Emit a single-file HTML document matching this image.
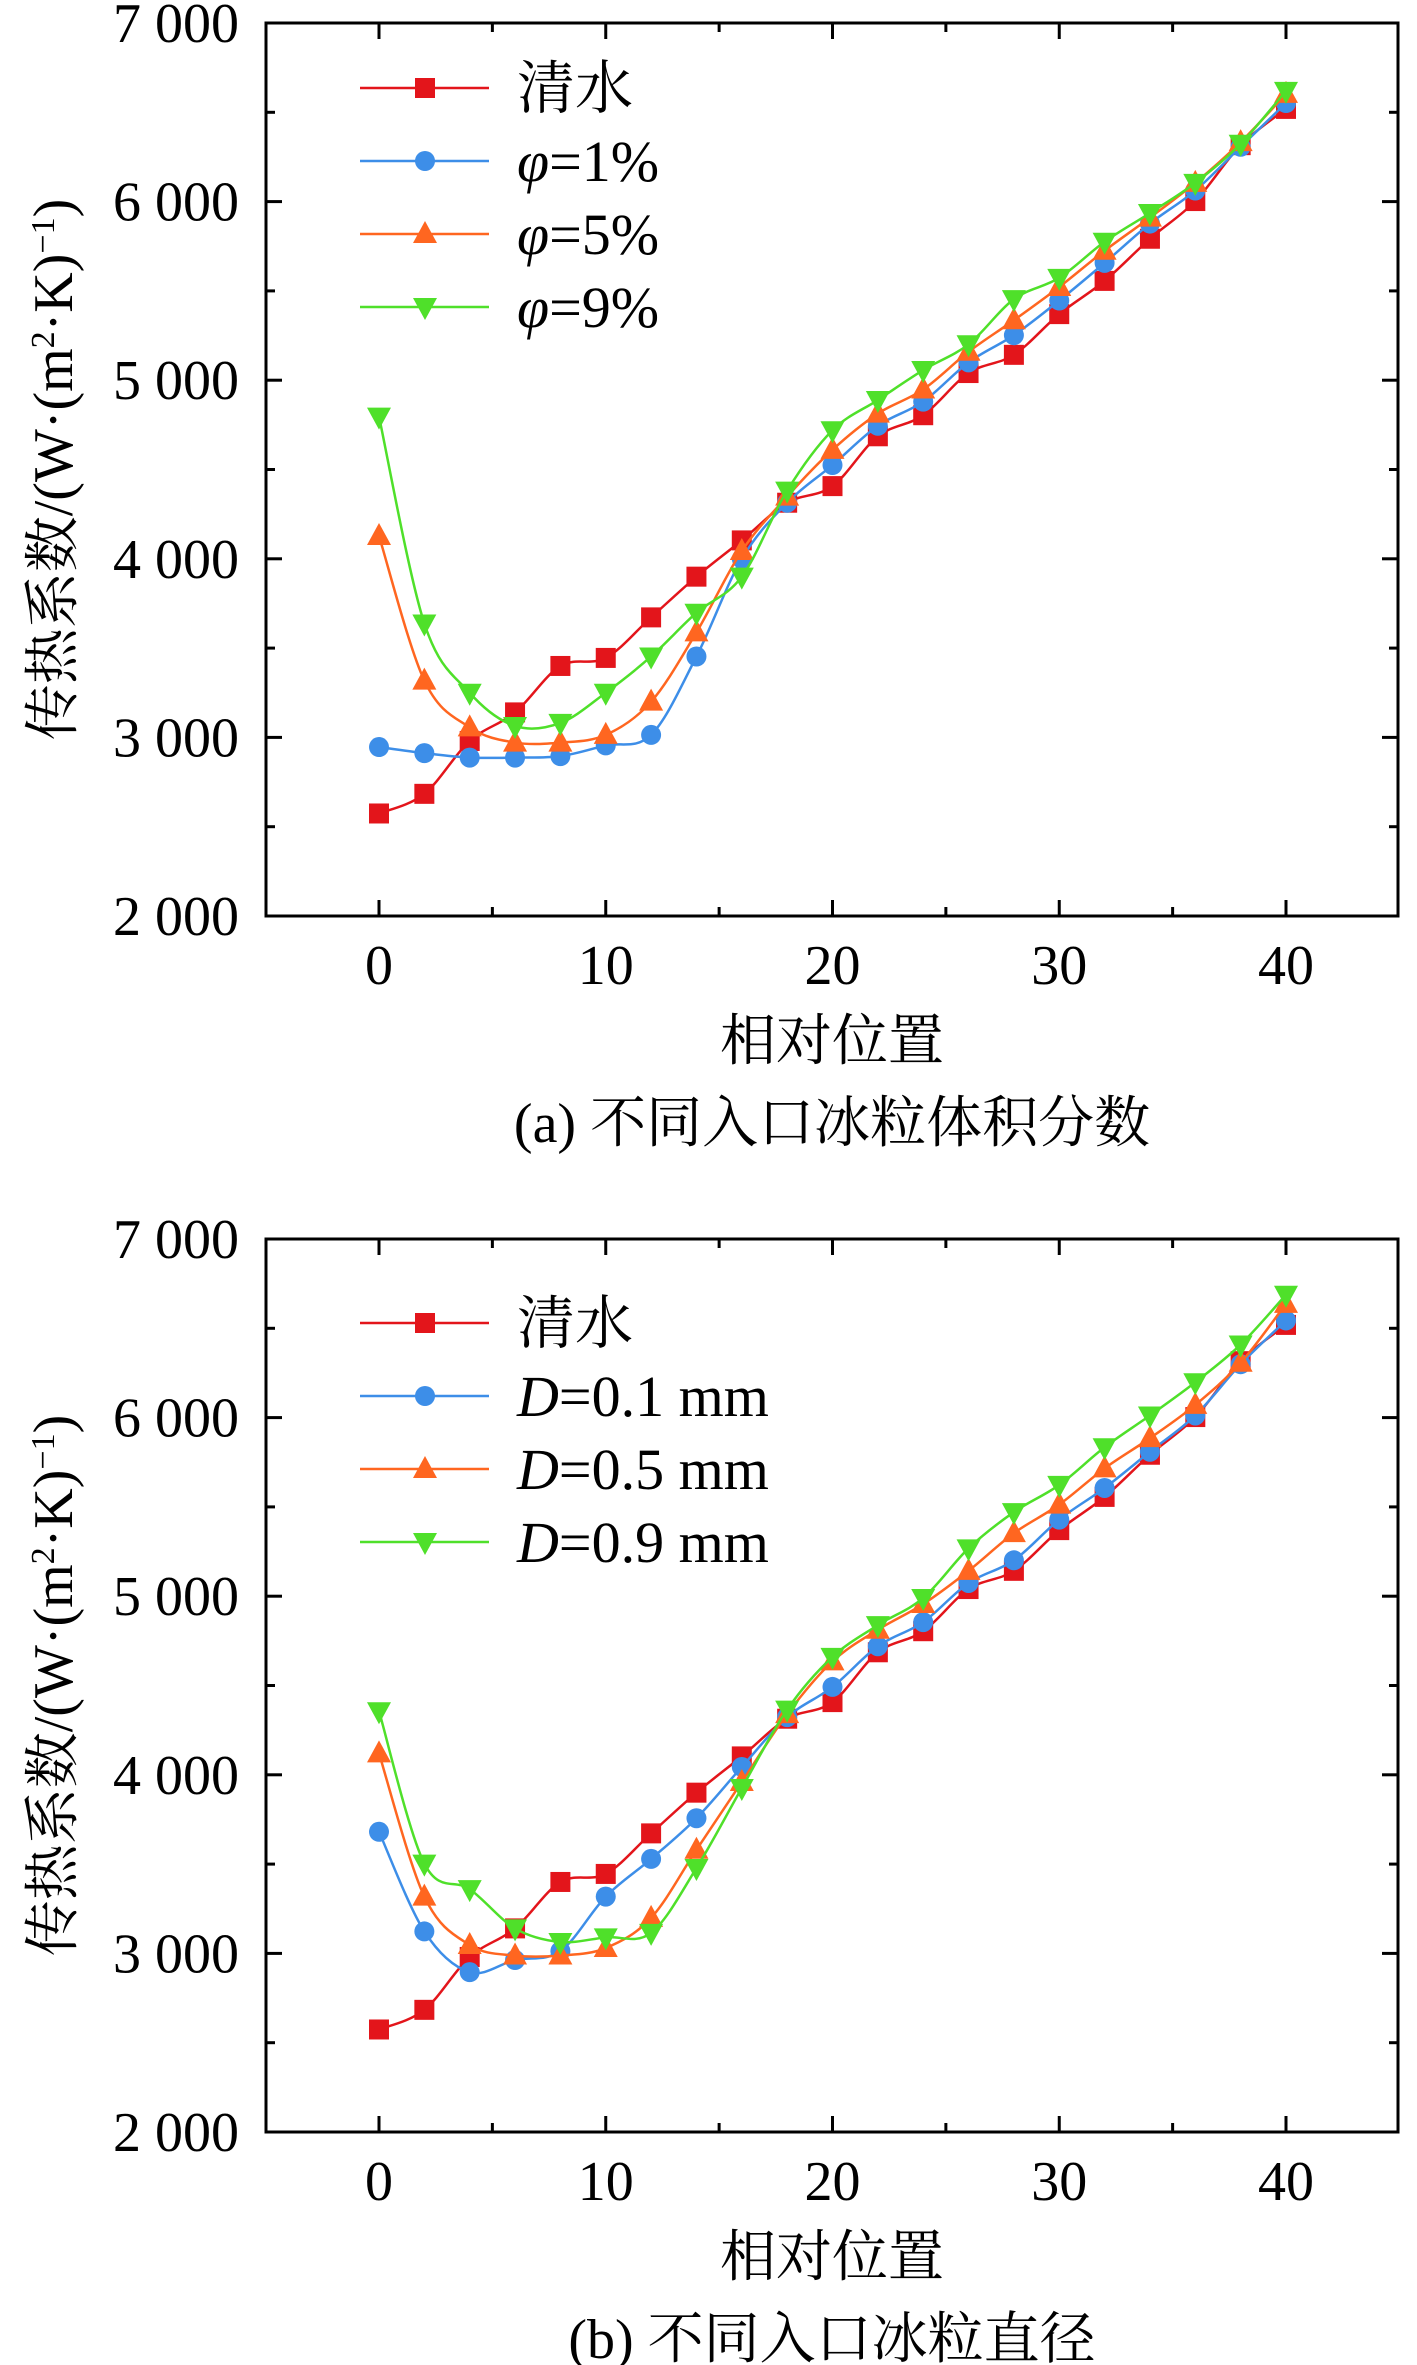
<!DOCTYPE html>
<html><head><meta charset="utf-8"><style>
html,body{margin:0;padding:0;background:#fff;}
svg{display:block;}
svg text{font-family:"Liberation Serif","Noto Serif CJK SC",serif;fill:#000;}
</style></head><body>
<svg id="chart" width="1417" height="2365" viewBox="0 0 1417 2365" xmlns="http://www.w3.org/2000/svg" font-family="'Liberation Serif','Noto Serif CJK SC',serif"></svg>
<script>
const xPositions=[0,2,4,6,8,10,12,14,16,18,20,22,24,26,28,30,32,34,36,38,40];
const xTicks=[0,10,20,30,40];
const yTicks=[2000,3000,4000,5000,6000,7000];
const yTickLabels=["2 000","3 000","4 000","5 000","6 000","7 000"];
const water=[2574,2684,2980,3140,3400,3445,3672,3900,4103,4314,4407,4686,4804,5040,5142,5370,5556,5792,6003,6316,6519];
const phi1=[2946,2912,2887,2887,2895,2955,3014,3453,4000,4314,4525,4745,4880,5100,5252,5446,5657,5877,6062,6307,6552];
const phi5=[4128,3318,3056,2971,2971,3014,3200,3588,4044,4348,4610,4813,4948,5159,5336,5522,5725,5910,6105,6333,6603];
const phi9=[4796,3638,3250,3064,3081,3250,3453,3698,3900,4382,4720,4889,5057,5201,5454,5573,5775,5936,6105,6324,6620];
const d01=[3681,3123,2895,2963,3013,3318,3529,3757,4044,4323,4492,4720,4855,5074,5201,5429,5606,5809,6012,6299,6544];
const d05=[4120,3318,3047,2988,2988,3030,3199,3580,3960,4340,4635,4812,4956,5142,5353,5513,5716,5885,6071,6307,6637];
const d09=[4356,3503,3360,3140,3064,3090,3115,3478,3926,4365,4660,4838,4990,5268,5471,5623,5834,6012,6198,6409,6688];
const legendA=["清水","φ=1%","φ=5%","φ=9%"];
const legendB=["清水","D=0.1 mm","D=0.5 mm","D=0.9 mm"];

const NS="http://www.w3.org/2000/svg";
const FF="'Liberation Serif','Noto Serif CJK SC',serif";
const svg=document.getElementById('chart');
const COLORS=["#e3151b","#3d8ee8","#ff6620","#4fe02a"];
const MARKERS=["square","circle","up","down"];
function el(tag,attrs,parent){const e=document.createElementNS(NS,tag);for(const k in attrs)e.setAttribute(k,attrs[k]);if(tag==='text')e.setAttribute('font-family',FF);(parent||svg).appendChild(e);return e;}

function drawPanel(id,top,series,labels,caption,legendTop){
  const L=266,R=1398,T=top,B=top+893;
  const xs=v=>379+(v/40)*(1286-379);
  const ys=v=>B-(v-2000)/5000*(B-T);
  const g=el('g',{});
  
  
  const fr=el('rect',{x:L,y:T,width:R-L,height:B-T,fill:'none',stroke:'#000','stroke-width':3},g);
  
  
  for(let v=-5;v<=45;v+=5){
    const x=xs(v); if(x<=L+2||x>=R-2) continue;
    const len=(v%10===0)?16:9;
    el('line',{x1:x,y1:B,x2:x,y2:B-len,stroke:'#000','stroke-width':3},g);
    el('line',{x1:x,y1:T,x2:x,y2:T+len,stroke:'#000','stroke-width':3},g);
  }
  xTicks.forEach(v=>{
    const t=el('text',{x:xs(v),y:B+68,'font-size':56,'text-anchor':'middle'},g);
    t.textContent=v;
    
    
  });
  for(let v=2000;v<=7000;v+=500){
    const y=ys(v); const len=(v%1000===0)?16:9;
    if(v>2000&&v<7000){
      el('line',{x1:L,y1:y,x2:L+len,y2:y,stroke:'#000','stroke-width':3},g);
      el('line',{x1:R,y1:y,x2:R-len,y2:y,stroke:'#000','stroke-width':3},g);
    }
  }
  yTicks.forEach((v,i)=>{
    const t=el('text',{x:239,y:ys(v)+19,'font-size':56,'text-anchor':'end'},g);
    t.textContent=yTickLabels[i];
    
    
  });
  const yt=el('text',{x:0,y:0,'font-size':56,'text-anchor':'middle',transform:`translate(72 ${(T+B)/2}) rotate(-90)`},g);
  yt.innerHTML='传热系数/(W·(m<tspan baseline-shift="super" font-size="34">2</tspan>·K)<tspan baseline-shift="super" font-size="34">−1</tspan>)';
  
  
  const xt=el('text',{x:(L+R)/2,y:B+144,'font-size':56,'text-anchor':'middle'},g);
  xt.textContent='相对位置';
  
  
  const cp=el('text',{x:(L+R)/2,y:B+226,'font-size':56,'text-anchor':'middle'},g);
  cp.textContent=caption;
  
  
  series.forEach((vals,si)=>{
    const pts=vals.map((v,i)=>[xs(xPositions[i]),ys(v)]);
    let d=`M${pts[0][0]},${pts[0][1]}`;
    for(let i=0;i<pts.length-1;i++){
      const p0=pts[Math.max(0,i-1)],p1=pts[i],p2=pts[i+1],p3=pts[Math.min(pts.length-1,i+2)];
      const c1=[p1[0]+(p2[0]-p0[0])/6,p1[1]+(p2[1]-p0[1])/6];
      const c2=[p2[0]-(p3[0]-p1[0])/6,p2[1]-(p3[1]-p1[1])/6];
      d+=` C${c1[0]},${c1[1]} ${c2[0]},${c2[1]} ${p2[0]},${p2[1]}`;
    }
    const line=el('path',{d:d,fill:'none',stroke:COLORS[si],'stroke-width':2.5},g);
    
    
    pts.forEach(p=>{
      const m=marker(MARKERS[si],p[0],p[1],COLORS[si],g);
      
      
    });
  });
  labels.forEach((lab,i)=>{
    const y=legendTop+i*73;
    const lg=el('g',{},g);
    
    
    el('line',{x1:360,y1:y,x2:489,y2:y,stroke:COLORS[i],'stroke-width':2.5},lg);
    marker(MARKERS[i],425,y,COLORS[i],lg);
    const t=el('text',{x:517,y:y+20,'font-size':58},lg);
    if(lab.includes('=')){
      const parts=lab.split('=');
      t.innerHTML=`<tspan font-style="italic">${parts[0]}</tspan>=${parts[1]}`;
    } else t.textContent=lab;
  });
}
function marker(type,x,y,c,parent){
  if(type==='square') return el('rect',{x:x-10,y:y-10,width:20,height:20,fill:c},parent);
  if(type==='circle') return el('circle',{cx:x,cy:y,r:10,fill:c},parent);
  if(type==='up') return el('polygon',{points:`${x},${y-13} ${x-12},${y+9} ${x+12},${y+9}`,fill:c},parent);
  return el('polygon',{points:`${x},${y+13} ${x-12},${y-9} ${x+12},${y-9}`,fill:c},parent);
}
drawPanel('panel-a',23,[water,phi1,phi5,phi9],legendA,'(a) 不同入口冰粒体积分数',88);
drawPanel('panel-b',1239,[water,d01,d05,d09],legendB,'(b) 不同入口冰粒直径',1323);
</script>
</body></html>
